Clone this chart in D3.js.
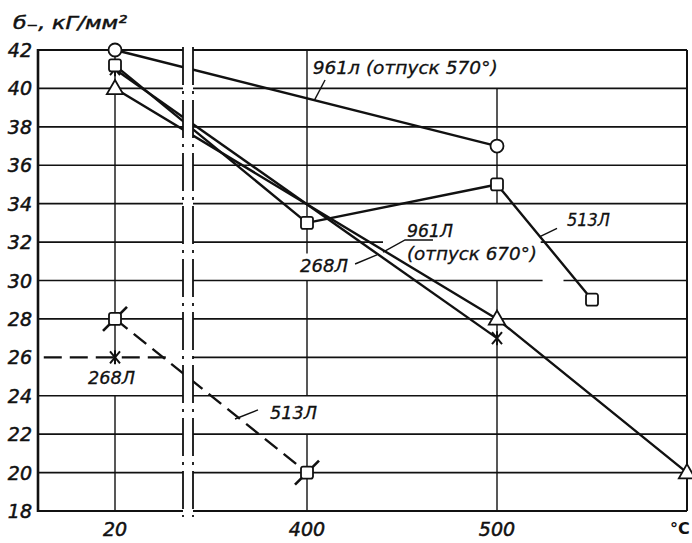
<!DOCTYPE html>
<html><head><meta charset="utf-8">
<script src="https://cdn.jsdelivr.net/npm/d3@7"></script>
<style>
html,body{margin:0;padding:0;background:#fff;}
svg{display:block;background:#fff;}
text{font-family:"DejaVu Sans",sans-serif;fill:#111;}
</style></head><body>
<svg id="chart" width="692" height="543"></svg>
<script>
// ---------------- data ----------------
const yTicks = [18, 20, 22, 24, 26, 28, 30, 32, 34, 36, 38, 40, 42];
const yTickLabels = ["18", "20", "22", "24", "26", "28", "30", "32", "34", "36", "38", "40", "42"];
const xTickValues = [20, 400, 500];
const xTickLabels = ["20", "400", "500"];
const xUnitLabel = "°C";
const yTitle = "б₋, кГ/мм²";

// temperature, °C  /  endurance limit σ₋₁, кГ/мм²
const s961_570_t = [20, 500];
const s961_570_v = [42, 37];
const s513_t = [20, 400, 500, 550];
const s513_v = [41.2, 33, 35, 29];
const s268_t = [20, 500];
const s268_v = [41, 27];
const s961_670_t = [20, 500, 600];
const s961_670_v = [40, 28, 20];
// dashed curves
const s513d_t = [20, 400];
const s513d_v = [28, 20];
const s268d_t = [20];
const s268d_v = [26];
const s268dLevel_t = [1.5, 36];
const s268dLevel_v = [26, 26];

const zip = (t, v) => t.map((d, i) => ({ t: d, v: v[i] }));

// ---------------- layout ----------------
const W = 692, H = 543;
const ink = "#111";
const svg = d3.select("#chart");
svg.append("rect").attr("width", W).attr("height", H).attr("fill", "#fff");

// broken temperature axis: 0–40 | break | 340–600
const x = d3.scaleLinear().domain([0, 20, 40, 340, 600]).range([38, 115, 183, 193, 687]);
const y = d3.scaleLinear().domain([18, 42]).range([511, 50]);
const breakT = [40, 340];
const leftSeg = [0, 40], rightSeg = [340, 600];

const g = svg.append("g");

// ---- horizontal grid lines (segments around the break and labels)
const hGaps = { 32: [[440, 523]], 30: [[524, 535]] };
const hSegs = [];
yTicks.forEach(v => {
  if (v !== 26) hSegs.push({ v, a: leftSeg[0], b: leftSeg[1] });
  let pieces = [[rightSeg[0], rightSeg[1]]];
  (hGaps[v] || []).forEach(([ga, gb]) => {
    pieces = pieces.flatMap(([a, b]) => [[a, ga], [gb, b]]);
  });
  pieces.forEach(([a, b]) => hSegs.push({ v, a, b }));
});
g.selectAll("line.h").data(hSegs).join("line")
  .attr("x1", d => x(d.a)).attr("x2", d => x(d.b))
  .attr("y1", d => y(d.v)).attr("y2", d => y(d.v))
  .attr("stroke", ink)
  .attr("stroke-width", d => (d.v === 18 || d.v === 42) ? 2 : 1.6);

// ---- vertical grid lines
const vSegs = [
  { t: 20, a: 18, b: 24 }, { t: 20, a: 26, b: 42 },
  { t: 400, a: 18, b: 22 }, { t: 400, a: 24, b: 30 }, { t: 400, a: 31.4, b: 42 },
  { t: 500, a: 18, b: 30 }, { t: 500, a: 34, b: 40 },
  { t: 600, a: 18, b: 42 }
];
g.selectAll("line.v").data(vSegs).join("line")
  .attr("x1", d => x(d.t)).attr("x2", d => x(d.t))
  .attr("y1", d => y(d.a)).attr("y2", d => y(d.b))
  .attr("stroke", ink)
  .attr("stroke-width", d => d.t === 600 ? 2 : 1.4);

// left axis line
g.append("line").attr("x1", x(0)).attr("x2", x(0))
  .attr("y1", y(42) - 1).attr("y2", y(18) + 1)
  .attr("stroke", ink).attr("stroke-width", 2.6);

// ---- data lines
const line = d3.line().x(d => x(d.t)).y(d => y(d.v));
const solid = [zip(s961_570_t, s961_570_v), zip(s513_t, s513_v), zip(s268_t, s268_v), zip(s961_670_t, s961_670_v)];
g.selectAll("path.solid").data(solid).join("path")
  .attr("d", line).attr("fill", "none").attr("stroke", ink)
  .attr("stroke-width", 2.4).attr("stroke-linejoin", "round");

g.append("path").attr("d", line(zip(s513d_t, s513d_v)))
  .attr("fill", "none").attr("stroke", ink).attr("stroke-width", 2.4)
  .attr("stroke-dasharray", "16,8");
g.append("path").attr("d", line(zip(s268dLevel_t, s268dLevel_v)))
  .attr("fill", "none").attr("stroke", ink).attr("stroke-width", 2.2)
  .attr("stroke-dasharray", "18,8");

// ---- axis break band
g.append("rect").attr("x", x(breakT[0])).attr("y", y(42) - 4)
  .attr("width", x(breakT[1]) - x(breakT[0])).attr("height", y(18) - y(42) + 10)
  .attr("fill", "#fff");
g.selectAll("line.brk").data(breakT).join("line")
  .attr("x1", d => x(d)).attr("x2", d => x(d))
  .attr("y1", y(42) - 3).attr("y2", y(18) + 6)
  .attr("stroke", ink).attr("stroke-width", 1.8)
  .attr("stroke-dasharray", "38,6,3,6");

// ---- markers
const markerStroke = 1.8;
function asterisk(sel, pts) {
  const m = sel.selectAll(null).data(pts).join("g")
    .attr("transform", d => `translate(${x(d.t)},${y(d.v)})`);
  [[-5, -6, 5, 6], [-5, 6, 5, -6], [0, -7, 0, 7]].forEach(([a, b, c, e]) => {
    m.append("line").attr("x1", a).attr("y1", b).attr("x2", c).attr("y2", e)
      .attr("stroke", ink).attr("stroke-width", 2);
  });
}
function triangles(sel, pts) {
  sel.selectAll(null).data(pts).join("path")
    .attr("d", d3.symbol(d3.symbolTriangle, 115)())
    .attr("transform", d => `translate(${x(d.t)},${y(d.v) + 1})`)
    .attr("fill", "#fff").attr("stroke", ink).attr("stroke-width", markerStroke);
}
function squares(sel, pts, slash) {
  const m = sel.selectAll(null).data(pts).join("g")
    .attr("transform", d => `translate(${x(d.t)},${y(d.v)})`);
  if (slash) {
    m.append("line").attr("x1", -12).attr("y1", 12).attr("x2", 12).attr("y2", -12)
      .attr("stroke", ink).attr("stroke-width", 2.6);
  }
  m.append("rect").attr("x", -6).attr("y", -6).attr("width", 12).attr("height", 12)
    .attr("rx", 2).attr("fill", "#fff").attr("stroke", ink).attr("stroke-width", markerStroke);
}
function circles(sel, pts) {
  sel.selectAll(null).data(pts).join("circle")
    .attr("cx", d => x(d.t)).attr("cy", d => y(d.v)).attr("r", 6.5)
    .attr("fill", "#fff").attr("stroke", ink).attr("stroke-width", markerStroke);
}
triangles(g.append("g"), zip(s961_670_t, s961_670_v));
asterisk(g.append("g"), zip(s268_t, s268_v));
asterisk(g.append("g"), zip(s268d_t, s268d_v));
squares(g.append("g"), zip(s513_t, s513_v), false);
squares(g.append("g"), zip(s513d_t, s513d_v), true);
circles(g.append("g"), zip(s961_570_t, s961_570_v));

// ---- axis tick labels
g.selectAll("text.yt").data(yTicks).join("text")
  .attr("x", 32).attr("y", d => y(d) + 7)
  .attr("text-anchor", "end").attr("font-size", 19).attr("font-style", "italic")
  .attr("stroke", ink).attr("stroke-width", 0.5)
  .text((d, i) => yTickLabels[i]);
g.selectAll("text.xt").data(xTickValues).join("text")
  .attr("x", d => x(d)).attr("y", y(18) + 25)
  .attr("text-anchor", "middle").attr("font-size", 19).attr("font-style", "italic")
  .attr("stroke", ink).attr("stroke-width", 0.5)
  .text((d, i) => xTickLabels[i]);
g.append("text").attr("x", x(600) - 17).attr("y", y(18) + 23)
  .attr("font-size", 16).attr("font-weight", "bold").text(xUnitLabel);
g.append("text").attr("x", 13).attr("y", 29)
  .attr("font-size", 18).attr("font-style", "italic")
  .attr("stroke", ink).attr("stroke-width", 0.5)
  .attr("textLength", 114).attr("lengthAdjust", "spacingAndGlyphs")
  .text(yTitle);

// ---- curve annotations
const annotations = [
  { text: "961л (отпуск 570°)", t: 403, v: 40.75, w: 185 },
  { text: "961Л", t: 452.6, v: 32.26, w: 46 },
  { text: "(отпуск 670°)", t: 452.6, v: 31.07, w: 130 },
  { text: "268Л", t: 396.3, v: 30.44, w: 48 },
  { text: "513Л", t: 536.8, v: 32.84, w: 43 },
  { text: "268Л", t: 13, v: 24.6, w: 47 },
  { text: "513Л", t: 380.5, v: 22.78, w: 47 }
];
g.selectAll("text.ann").data(annotations).join("text")
  .attr("x", d => x(d.t)).attr("y", d => y(d.v))
  .attr("font-size", 17).attr("font-style", "italic")
  .attr("stroke", ink).attr("stroke-width", 0.3)
  .attr("textLength", d => d.w).attr("lengthAdjust", "spacingAndGlyphs")
  .text(d => d.text);

const leaders = [
  [[409.5, 40.44], [404, 39.4]],
  [[466.3, 32.11], [451.6, 32.11], [440, 31.48]],
  [[425.3, 30.86], [436.8, 31.33]],
  [[531.6, 32.72], [522.6, 32.28]],
  [[374.2, 23.26], [362.1, 22.79]]
];
const leaderLine = d3.line().x(d => x(d[0])).y(d => y(d[1]));
g.selectAll("path.lead").data(leaders).join("path")
  .attr("d", leaderLine).attr("fill", "none").attr("stroke", ink).attr("stroke-width", 1.4);
</script>
</body></html>
